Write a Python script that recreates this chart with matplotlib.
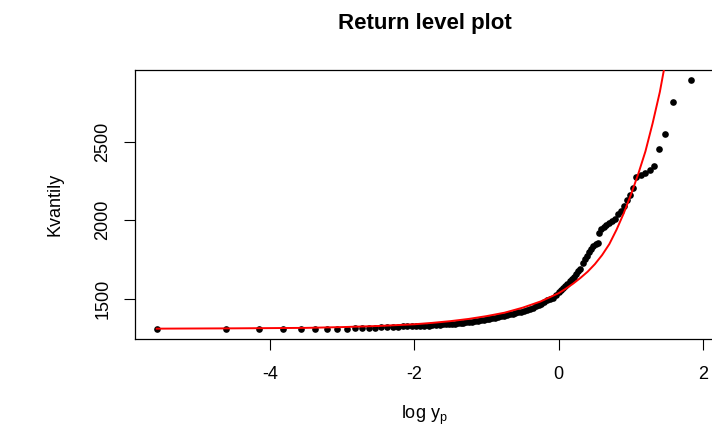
import matplotlib
matplotlib.use('Agg')
import matplotlib.pyplot as plt

plt.rcParams['font.family'] = ['Liberation Sans', 'DejaVu Sans']
plt.rcParams['mathtext.fontset'] = 'custom'
plt.rcParams['mathtext.rm'] = 'Liberation Sans'
plt.rcParams['mathtext.it'] = 'Liberation Sans'

pts_x = [-5.57, -4.61, -4.15, -3.82, -3.57, -3.37, -3.21, -3.07, -2.94, -2.82,
         -2.72, -2.63, -2.54, -2.46, -2.38, -2.30, -2.23, -2.16, -2.10, -2.04,
         -1.98, -1.92, -1.86, -1.80, -1.75, -1.70,
         -1.64, -1.60, -1.56, -1.52, -1.48, -1.44, -1.40, -1.36, -1.32, -1.28,
         -1.24, -1.20, -1.16, -1.12, -1.08, -1.04, -1.00, -0.96, -0.92, -0.88,
         -0.84, -0.80, -0.76, -0.72, -0.68, -0.64, -0.60, -0.56, -0.52, -0.48,
         -0.44, -0.40, -0.36, -0.32, -0.28, -0.24, -0.20, -0.16, -0.12, -0.08,
         -0.04, 0.00,
         0.03, 0.06, 0.09, 0.12, 0.15, 0.18, 0.21, 0.24, 0.27, 0.30,
         0.33, 0.36, 0.39, 0.42, 0.45, 0.48, 0.51, 0.54, 0.56, 0.59,
         0.62, 0.66, 0.70, 0.74, 0.78, 0.82, 0.86, 0.90, 0.94, 0.98,
         1.03, 1.075, 1.14, 1.20, 1.26, 1.32, 1.384, 1.472, 1.582, 1.837]
pts_y = [1308, 1308, 1308, 1308, 1308, 1308, 1308, 1308, 1308, 1312,
         1312, 1312, 1314, 1316, 1318, 1320, 1320, 1322, 1322, 1324,
         1326, 1326, 1328, 1328, 1330, 1331,
         1333, 1335, 1336, 1337, 1339, 1340, 1342, 1344, 1346, 1348,
         1350, 1352, 1355, 1358, 1361, 1364, 1367, 1370, 1374, 1378,
         1382, 1386, 1390, 1395, 1399, 1403, 1407, 1412, 1416, 1421,
         1428, 1435, 1443, 1452, 1460, 1468, 1478, 1488, 1495, 1505,
         1520, 1540,
         1555, 1567, 1580, 1595, 1610, 1622, 1635, 1655, 1675, 1690,
         1725, 1750, 1770, 1795, 1815, 1835, 1848, 1855, 1920, 1945,
         1960, 1968, 1980, 1995, 2010, 2040, 2060, 2090, 2130, 2160,
         2205, 2275, 2290, 2305, 2322, 2345, 2454, 2553, 2758, 2896]

# fitted return level curve
fit_x = [-5.57, -4.5, -3.5, -3.0, -2.5, -2.0, -1.75, -1.5, -1.25, -1.0,
         -0.75, -0.5, -0.25, 0.0, 0.1, 0.2, 0.3, 0.4, 0.5, 0.6,
         0.7, 0.8, 0.9, 1.0, 1.1, 1.2, 1.3, 1.4, 1.46]
fit_y = [1308, 1310, 1313, 1318, 1325, 1336, 1345, 1356, 1370, 1388,
         1410, 1442, 1482, 1535, 1564, 1596, 1632, 1672, 1720, 1778,
         1848, 1940, 2045, 2165, 2295, 2440, 2620, 2820, 2970]

x_ticks = [-4, -2, 0, 2]
y_ticks = [1500, 2000, 2500]

fig = plt.figure(figsize=(7.12, 4.28), dpi=100)
ax = fig.add_axes([135/712, 1 - 339.3/428, (714 - 135)/712, (339.3 - 70)/428])

ax.plot(pts_x, pts_y, 'o', color='black', ms=4.8, mew=0, zorder=2)
ax.plot(fit_x, fit_y, color='red', lw=1.4, zorder=3)

ax.set_xlim(-5.87, 2.15)
ax.set_ylim(1240, 2960)
ax.set_xticks(x_ticks)
ax.set_yticks(y_ticks)
ax.set_xticklabels([str(t) for t in x_ticks])
ax.set_yticklabels([str(t) for t in y_ticks], rotation=90, va='center')
ax.tick_params(axis='both', length=8, width=0.8, labelsize=13, pad=11, colors='black')
ax.tick_params(axis='y', pad=9)

for s in ax.spines.values():
    s.set_linewidth(0.9)
    s.set_color('black')

ax.set_xlabel('log $\\mathregular{y_p}$', fontsize=13, labelpad=15)
ax.set_ylabel('Kvantily', fontsize=13, labelpad=22)
fig.text(424.5/712, 1 - 24/428, 'Return level plot', ha='center', va='center',
         fontsize=16, fontweight='bold')

fig.savefig('out.png', dpi=100)
